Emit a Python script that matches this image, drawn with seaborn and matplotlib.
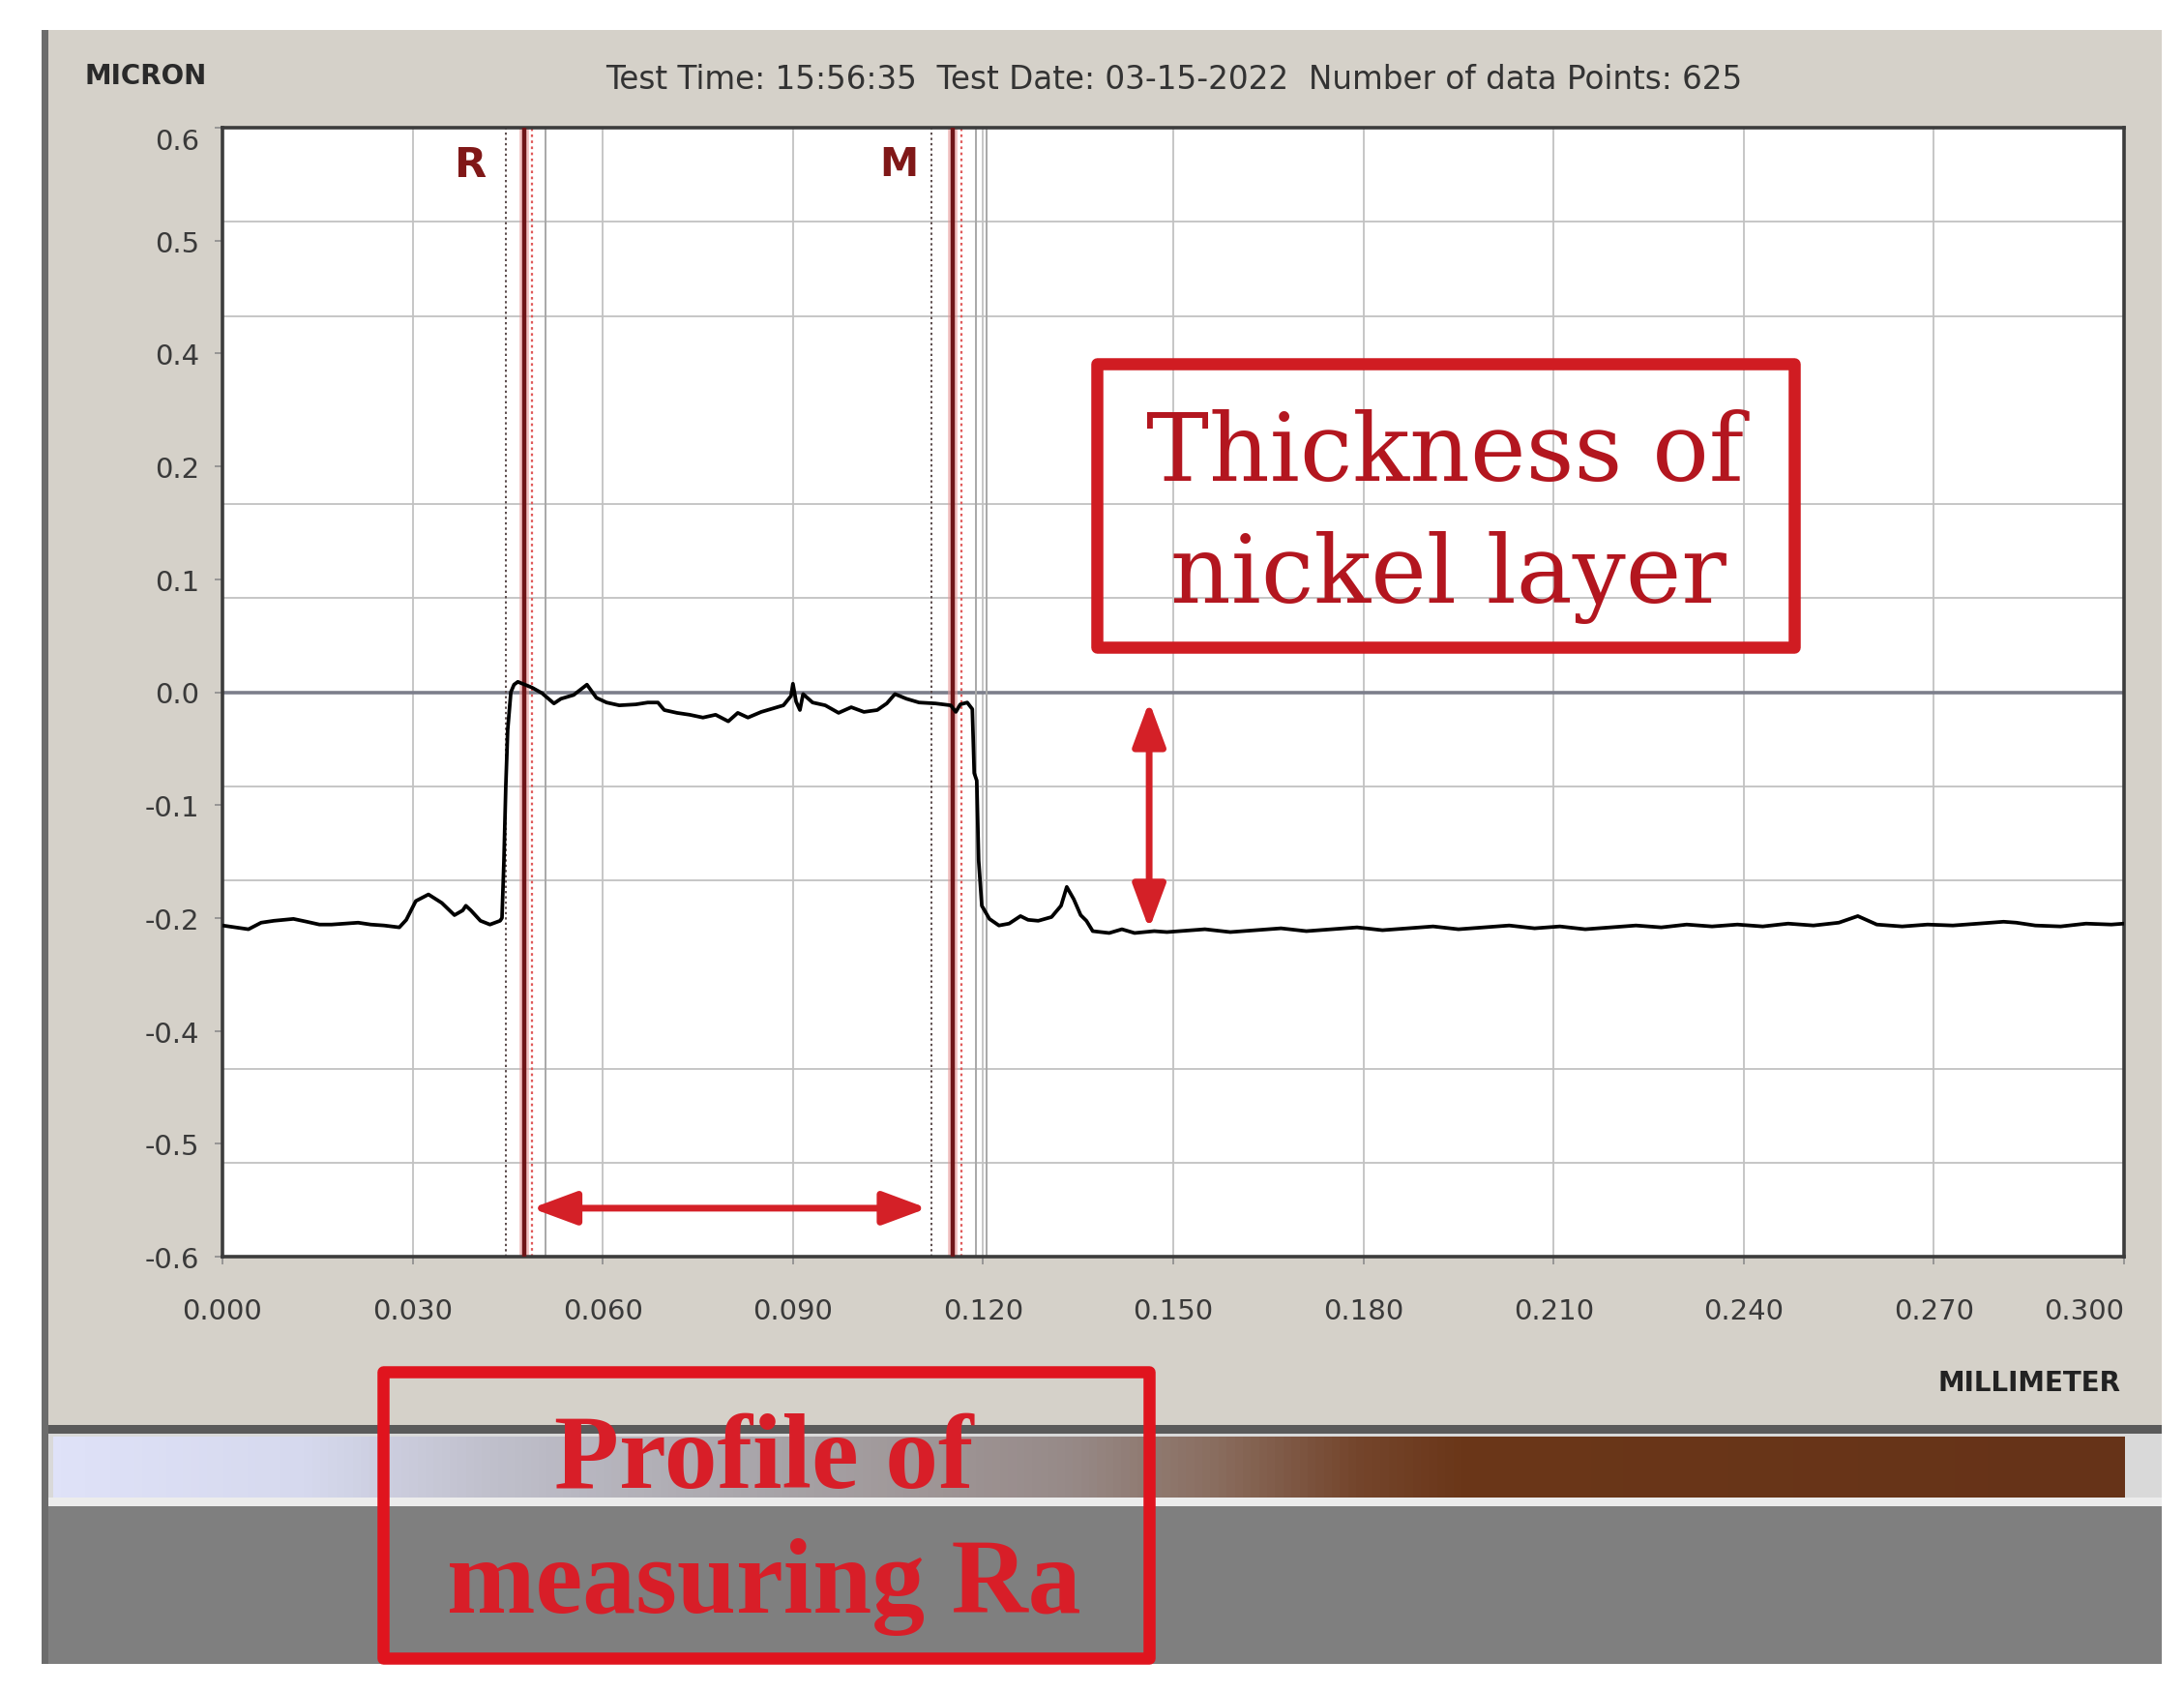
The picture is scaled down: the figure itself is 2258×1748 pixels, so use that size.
import matplotlib
matplotlib.use("Agg")
import matplotlib.pyplot as plt
import seaborn as sns
import pandas as pd
import numpy as np
from matplotlib.patches import Rectangle
from matplotlib.colors import LinearSegmentedColormap

# ---------------- data ----------------
x_left = [0.0000, 0.0020, 0.0041, 0.0061, 0.0081, 0.0112, 0.0133, 0.0153, 0.0172, 0.0193,
          0.0214, 0.0234, 0.0255, 0.0279, 0.0290, 0.0305, 0.0325, 0.0346, 0.0366, 0.0379,
          0.0384, 0.0392, 0.0407, 0.0422, 0.0438, 0.0441]
y_left = [-0.248, -0.250, -0.252, -0.245, -0.243, -0.241, -0.244, -0.247, -0.247, -0.246,
          -0.245, -0.247, -0.248, -0.250, -0.242, -0.222, -0.215, -0.224, -0.237, -0.232,
          -0.227, -0.232, -0.243, -0.247, -0.243, -0.240]

x_step_up = [0.0444, 0.0447, 0.0450, 0.0455, 0.0460, 0.0466]
y_step_up = [-0.180, -0.100, -0.040, 0.000, 0.008, 0.011]

x_plateau = [0.0488, 0.0504, 0.0523, 0.0534, 0.0554, 0.0575, 0.0590, 0.0606, 0.0626, 0.0652,
             0.0671, 0.0687, 0.0697, 0.0717, 0.0737, 0.0758, 0.0778, 0.0798, 0.0813, 0.0829,
             0.0850, 0.0870, 0.0885, 0.0897, 0.0900, 0.0905, 0.0911, 0.0916, 0.0931, 0.0951,
             0.0972, 0.0992, 0.1012, 0.1033, 0.1048, 0.1061, 0.1079, 0.1099, 0.1125, 0.1149,
             0.1157, 0.1164, 0.1175, 0.1183]
y_plateau = [0.005, -0.001, -0.012, -0.007, -0.003, 0.008, -0.006, -0.011, -0.014, -0.013,
             -0.011, -0.011, -0.019, -0.022, -0.024, -0.027, -0.024, -0.031, -0.022, -0.027,
             -0.021, -0.017, -0.014, -0.004, 0.009, -0.010, -0.019, -0.002, -0.011, -0.014,
             -0.022, -0.016, -0.021, -0.019, -0.012, -0.002, -0.007, -0.011, -0.012, -0.014,
             -0.021, -0.013, -0.011, -0.018]

x_step_down = [0.1186, 0.1190, 0.1193, 0.1198, 0.1210, 0.1225, 0.1241, 0.1259, 0.1271, 0.1287,
               0.1308, 0.1323, 0.1332, 0.1343, 0.1354, 0.1363, 0.1373, 0.1399, 0.1419, 0.1439,
               0.1470, 0.1490]
y_step_down = [-0.086, -0.094, -0.179, -0.227, -0.241, -0.248, -0.246, -0.238, -0.242, -0.243,
               -0.239, -0.227, -0.207, -0.220, -0.237, -0.243, -0.254, -0.256, -0.252, -0.256,
               -0.254, -0.255]

x_right = [0.151, 0.155, 0.159, 0.163, 0.167, 0.171, 0.175, 0.179, 0.183, 0.187,
           0.191, 0.195, 0.199, 0.203, 0.207, 0.211, 0.215, 0.219, 0.223, 0.227,
           0.231, 0.235, 0.239, 0.243, 0.247, 0.251, 0.255, 0.258, 0.261, 0.265,
           0.269, 0.273, 0.277, 0.281, 0.283, 0.286, 0.290, 0.294, 0.298, 0.300]
y_right = [-0.254, -0.252, -0.255, -0.253, -0.251, -0.254, -0.252, -0.250, -0.253, -0.251,
           -0.249, -0.252, -0.250, -0.248, -0.251, -0.249, -0.252, -0.250, -0.248, -0.250,
           -0.247, -0.249, -0.247, -0.249, -0.246, -0.248, -0.245, -0.238, -0.247, -0.249,
           -0.247, -0.248, -0.246, -0.244, -0.245, -0.248, -0.249, -0.246, -0.247, -0.246]

x_ticks = [0.000, 0.030, 0.060, 0.090, 0.120, 0.150, 0.180, 0.210, 0.240, 0.270, 0.300]
x_tick_labels = ["0.000", "0.030", "0.060", "0.090", "0.120", "0.150", "0.180",
                 "0.210", "0.240", "0.270", "0.300"]
y_ticks = [-0.60, -0.48, -0.36, -0.24, -0.12, 0.0, 0.12, 0.24, 0.36, 0.48, 0.60]
y_tick_labels = ["-0.6", "-0.5", "-0.4", "-0.2", "-0.1", "0.0", "0.1", "0.2", "0.4", "0.5", "0.6"]
y_grid = [-0.5, -0.4, -0.2, -0.1, 0.1, 0.2, 0.4, 0.5]

cursor_R = [0.0447, 0.0476, 0.0488, 0.0510]   # dotted, solid, dotted, grey
cursor_M = [0.1119, 0.1152, 0.1166, 0.1189, 0.1206]
ra_span = [0.0488, 0.1112]      # horizontal arrow extent (mm)
ra_arrow_y = -0.5485
thick_arrow_x = 0.1462
thick_span = [-0.252, -0.010]

title = "Test Time: 15:56:35  Test Date: 03-15-2022  Number of data Points: 625"

df = pd.DataFrame({
    "mm": x_left + x_step_up + x_plateau + x_step_down + x_right,
    "micron": y_left + y_step_up + y_plateau + y_step_down + y_right,
})

# ---------------- figure ----------------
sns.set_theme(style="white")
plt.rcParams["font.family"] = ["DejaVu Sans"]
plt.rcParams["axes.unicode_minus"] = False

W, H = 2258, 1749
fig = plt.figure(figsize=(W / 100, H / 100), dpi=100)
fig.patch.set_facecolor("white")


def fx(px):
    return px / W


def fy(py):
    return 1 - py / H


def frect(x0, y0, x1, y1, **kw):
    r = Rectangle((fx(x0), fy(y1)), fx(x1) - fx(x0), fy(y0) - fy(y1),
                  transform=fig.transFigure, **kw)
    fig.patches.append(r)
    return r


# window background
frect(50, 32, 2235, 1476, facecolor="#d5d1c9", edgecolor="none", zorder=-10)
frect(43, 32, 50, 1721, facecolor="#6c6c6c", edgecolor="none", zorder=-9)
frect(50, 1474, 2235, 1483, facecolor="#5a5a5a", edgecolor="none", zorder=-9)
frect(50, 1483, 2235, 1557, facecolor="#d9d9d9", edgecolor="none", zorder=-9)
frect(50, 1549, 2235, 1558, facecolor="#ececec", edgecolor="none", zorder=-8)
frect(50, 1558, 2235, 1721, facecolor="#7f7f7f", edgecolor="none", zorder=-9)

# gradient bar
bar_ax = fig.add_axes([fx(55), fy(1549), fx(2197) - fx(55), fy(1486) - fy(1549)], zorder=-5)
grad_cmap = LinearSegmentedColormap.from_list("bar", [
    (0.00, "#dfe2f8"), (0.12, "#d6d9ee"), (0.21, "#c0c0cc"), (0.35, "#a7a3a7"),
    (0.49, "#978a88"), (0.56, "#8a6e60"), (0.63, "#74452c"), (0.68, "#6b3719"),
    (1.00, "#663318")])
bar_ax.imshow(np.linspace(0, 1, 512)[None, :], aspect="auto", cmap=grad_cmap)
bar_ax.set_axis_off()

# main axes
ax = fig.add_axes([fx(230), fy(1300), fx(2196) - fx(230), fy(133) - fy(1300)])
ax.set_facecolor("white")
ax.set_xlim(0, 0.300)
ax.set_ylim(-0.6, 0.6)

for xv in x_ticks[1:-1]:
    ax.axvline(xv, color="#c2c2c2", lw=1.3, zorder=0)
for yv in y_grid:
    ax.axhline(yv, color="#c2c2c2", lw=1.3, zorder=0)
ax.axhline(0.0, color="#7c7e8b", lw=2.6, zorder=1)

# cursors
for group in (cursor_R, cursor_M):
    ax.axvline(group[0], color="#5a4a4a", lw=1.4, ls=(0, (1.2, 1.6)), zorder=2)
    ax.axvline(group[1], color="#e89a9a", lw=7, alpha=0.6, zorder=2)
    ax.axvline(group[1], color="#6e1518", lw=3.2, zorder=3)
    ax.axvline(group[2], color="#e05a5a", lw=1.6, ls=(0, (1.2, 1.6)), zorder=2)
    for g in group[3:]:
        ax.axvline(g, color="#a8a8a8", lw=1.4, zorder=1)

sns.lineplot(data=df, x="mm", y="micron", ax=ax, color="black", linewidth=2.7,
             sort=False, estimator=None, zorder=4)

ax.set_xlabel("")
ax.set_ylabel("")
ax.set_xticks(x_ticks)
ax.set_xticklabels(x_tick_labels)
ax.set_yticks(y_ticks)
ax.set_yticklabels(y_tick_labels)
ax.tick_params(axis="both", direction="out", length=6, width=1.2, color="#8c8c8c",
               labelsize=21, labelcolor="#3a3a3a", left=True, bottom=True)
ax.tick_params(axis="x", pad=24)
ax.tick_params(axis="y", pad=11)
ax.get_xticklabels()[-1].set_horizontalalignment("right")
ax.get_yticklabels()[-1].set_verticalalignment("top")
ax.grid(False)
for sp in ax.spines.values():
    sp.set_visible(True)
    sp.set_color("#3c3c3c")
    sp.set_linewidth(2.6)

# cursor letters
ax.text(0.0392, 0.561, "R", ha="center", va="center", fontsize=31, fontweight="bold",
        color="#801818", zorder=5)
ax.text(0.1067, 0.561, "M", ha="center", va="center", fontsize=29, fontweight="bold",
        color="#801818", zorder=5)

# arrows
arrow_style = "<|-|>,head_length=0.7,head_width=0.26"
ax.annotate("", xy=(ra_span[1], ra_arrow_y), xytext=(ra_span[0], ra_arrow_y),
            arrowprops=dict(arrowstyle=arrow_style, color="#d42027", lw=5,
                            mutation_scale=40, shrinkA=0, shrinkB=0), zorder=6)
ax.annotate("", xy=(thick_arrow_x, thick_span[1]), xytext=(thick_arrow_x, thick_span[0]),
            arrowprops=dict(arrowstyle=arrow_style, color="#d42027", lw=5,
                            mutation_scale=40, shrinkA=0, shrinkB=0), zorder=6)

# header / axis texts
fig.text(fx(151), fy(79), "MICRON", ha="center", va="center", fontsize=20,
         fontweight="bold", color="#2a2a2a")
fig.text(fx(1214), fy(82), title, ha="center", va="center", fontsize=23.5, color="#333333")
fig.text(fx(2192), fy(1430), "MILLIMETER", ha="right", va="center", fontsize=20,
         fontweight="bold", color="#222222")

# annotation boxes
frect(1134, 377, 1855, 670, facecolor="none", edgecolor="#d01c22", lw=9,
      joinstyle="round", zorder=5)
fig.text(fx(1494), fy(497), "Thickness of", ha="center", va="baseline", fontsize=70,
         family="DejaVu Serif", color="#b3161f", zorder=6)
fig.text(fx(1497), fy(623), "nickel layer", ha="center", va="baseline", fontsize=70,
         family="DejaVu Serif", color="#b3161f", zorder=6)

frect(396, 1419, 1188, 1715, facecolor="none", edgecolor="#e0141e", lw=9,
      joinstyle="round", zorder=5)
fig.text(fx(790), fy(1538), "Profile of", ha="center", va="baseline", fontsize=79,
         family="Liberation Serif", fontweight="bold", color="#d81e28", zorder=6)
fig.text(fx(790), fy(1667), "measuring Ra", ha="center", va="baseline", fontsize=79,
         family="Liberation Serif", fontweight="bold", color="#d81e28", zorder=6)

fig.savefig("out.png", dpi=100, facecolor="white")
